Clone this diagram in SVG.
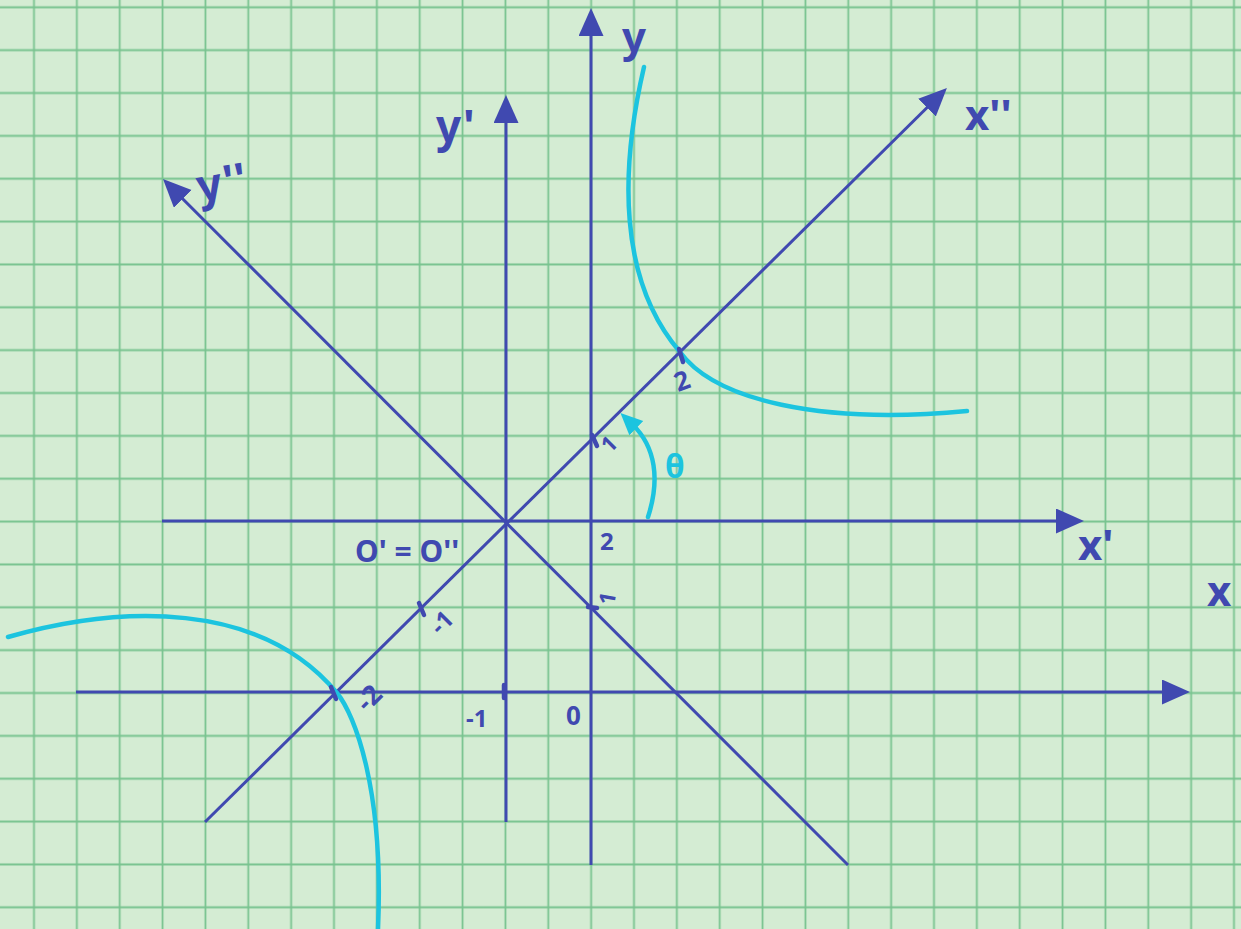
<svg xmlns="http://www.w3.org/2000/svg" width="1241" height="929" viewBox="0 0 1241 929">
  <defs>
    <pattern id="grid" patternUnits="userSpaceOnUse" x="12.57" y="-14.13" width="42.857" height="42.857">
      <path d="M0,21.43 H42.857 M21.43,0 V42.857" stroke="#78c38f" stroke-width="1.8" fill="none"/>
    </pattern>
    <marker id="ah" markerUnits="userSpaceOnUse" markerWidth="30" markerHeight="26" refX="8" refY="12.5" orient="auto">
      <path d="M0,0 L28,12.5 L0,25 Z" fill="#4049b0"/>
    </marker>
    <marker id="ahc" markerUnits="userSpaceOnUse" markerWidth="24" markerHeight="22" refX="6" refY="10" orient="auto">
      <path d="M0,0 L22,10 L0,20 Z" fill="#1cc4df"/>
    </marker>
  </defs>
  <style>
    .ax { stroke: #4049b0; stroke-width: 3; fill: none; }
    .tk { stroke: #4049b0; stroke-width: 4.5; stroke-linecap: round; fill: none; }
    .cv { stroke: #1cc4df; stroke-width: 4.5; fill: none; stroke-linecap: round; }
    .lb { fill: #4049b0; font-family: "Noto Sans", "DejaVu Sans", sans-serif; font-weight: 700; }
    .th { fill: #1cc4df; font-family: "Noto Sans", "DejaVu Sans", sans-serif; font-weight: 700; }
  </style>
  <rect width="1241" height="929" fill="#d4ecd3"/>
  <rect width="1241" height="929" fill="url(#grid)"/>

  <g id="connectors">
    <line id="x-axis" class="ax" x1="76" y1="692" x2="1170" y2="692" marker-end="url(#ah)"/>
    <line id="y-axis" class="ax" x1="591" y1="865" x2="591" y2="28" marker-end="url(#ah)"/>
    <line id="x1-axis" class="ax" x1="162" y1="521" x2="1064" y2="521" marker-end="url(#ah)"/>
    <line id="y1-axis" class="ax" x1="506" y1="822" x2="506" y2="115" marker-end="url(#ah)"/>
    <line id="x2-axis" class="ax" x1="205" y1="822" x2="932.7" y2="102" marker-end="url(#ah)"/>
    <line id="y2-axis" class="ax" x1="848" y1="865" x2="177.1" y2="193.2" marker-end="url(#ah)"/>
  </g>

  <g id="curves">
    <path class="cv" d="M644,67 C620,170 618,280 680,352 C715,400 820,425 967,411"/>
    <path class="cv" d="M8,637 C120,605 260,600 337,693 C355,715 384,790 378,929"/>
    <path class="cv" d="M648,517 C660,480 656,447 632,424" marker-end="url(#ahc)"/>
  </g>

  <g id="ticks">
    <line class="tk" x1="592" y1="435" x2="597" y2="446"/>
    <line class="tk" x1="679" y1="349" x2="683" y2="362"/>
    <line class="tk" x1="419" y1="603" x2="424" y2="615"/>
    <line class="tk" x1="331" y1="687" x2="336" y2="699"/>
    <line class="tk" x1="504" y1="685" x2="504" y2="698"/>
    <line class="tk" x1="588" y1="607" x2="597" y2="608"/>
  </g>

  <g id="labels">
    <text class="lb" x="622" y="52" font-size="42">y</text>
    <text class="lb" x="436" y="142" font-size="44">y'</text>
    <text class="lb" x="196" y="198" font-size="44" transform="rotate(-10 220 180)">y''</text>
    <text class="lb" x="965" y="130" font-size="42">x''</text>
    <text class="lb" x="1078" y="560" font-size="42">x'</text>
    <text class="lb" x="1207" y="606" font-size="42">x</text>
    <text class="lb" x="355" y="562" font-size="30">O' = O''</text>
    <text class="lb" x="600" y="550" font-size="24">2</text>
    <text class="lb" x="466" y="727" font-size="24">-1</text>
    <text class="lb" x="566" y="725" font-size="26">0</text>
    <text class="lb" x="0" y="0" font-size="22" transform="translate(610,454) rotate(-45)">1</text>
    <text class="lb" x="0" y="0" font-size="26" transform="translate(678,392) rotate(-20)">2</text>
    <text class="lb" x="0" y="0" font-size="24" transform="translate(440,636) rotate(-45)">-1</text>
    <text class="lb" x="0" y="0" font-size="27" transform="translate(367,713) rotate(-45)">-2</text>
    <text class="lb" x="0" y="0" font-size="22" transform="translate(614,606) rotate(-80)">1</text>
    <text class="th" x="665" y="478" font-size="32">θ</text>
  </g>
</svg>
